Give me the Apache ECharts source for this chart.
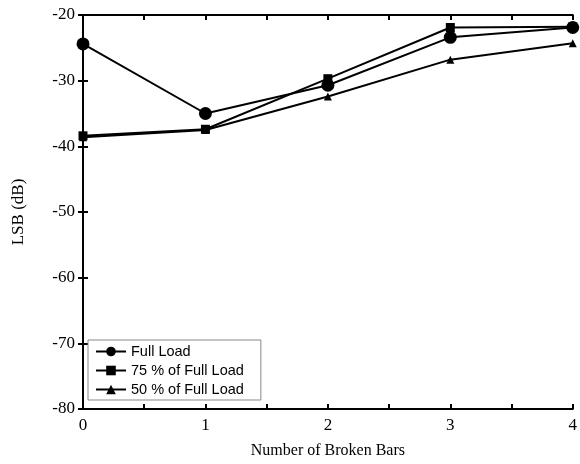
<!DOCTYPE html>
<html><head><meta charset="utf-8">
<script src="https://cdn.jsdelivr.net/npm/echarts@6/dist/echarts.min.js"></script>
<style>html,body{margin:0;padding:0;background:#fff}#c{width:580px;height:464px}</style>
</head><body><div id="c"></div>
<script>
const xValues = [0, 1, 2, 3, 4];
const fullLoad = [-24.4, -35.0, -30.7, -23.4, -21.9];
const load75 = [-38.4, -37.4, -29.7, -21.9, -21.8];
const load50 = [-38.6, -37.5, -32.4, -26.8, -24.3];
const seriesNames = ['Full Load', '75 % of Full Load', '50 % of Full Load'];
const xTicks = ['0', '1', '2', '3', '4'];
const yTicks = ['-80', '-70', '-60', '-50', '-40', '-30', '-20'];

const pair = arr => xValues.map((x, i) => [x, arr[i]]);
const serif = 'Liberation Serif';
const axisLineStyle = { color: '#000', width: 2 };
const chart = echarts.init(document.getElementById('c'));
chart.setOption({
  animation: false,
  grid: { left: 83, top: 15, right: 3, bottom: 55 },
  legend: {
    left: 88, top: 340, orient: 'vertical',
    padding: [4, 17, 3, 7],
    itemGap: 4, itemWidth: 30, itemHeight: 12,
    borderColor: '#888', borderWidth: 1,
    textStyle: { fontFamily: 'Liberation Sans', fontSize: 14.5, color: '#000' },
    data: seriesNames
  },
  xAxis: [{
    type: 'value', min: 0, max: 4, interval: 0.5,
    name: 'Number of Broken Bars', nameLocation: 'middle', nameGap: 34,
    nameTextStyle: { fontFamily: serif, fontSize: 16, color: '#000' },
    axisLine: { lineStyle: axisLineStyle },
    axisTick: { inside: true, length: 5, lineStyle: { color: '#000', width: 2 } },
    axisLabel: { fontFamily: serif, fontSize: 17, color: '#000', margin: 8,
      formatter: v => Number.isInteger(v) ? xTicks[v] : '' },
    splitLine: { show: false }
  }, {
    type: 'value', position: 'top', min: 0, max: 4, interval: 0.5,
    axisLine: { show: true, lineStyle: axisLineStyle },
    axisTick: { inside: true, length: 5, lineStyle: { color: '#000', width: 2 } },
    axisLabel: { show: false }, splitLine: { show: false }
  }],
  yAxis: [{
    type: 'value', min: -80, max: -20, interval: 10,
    name: 'LSB (dB)', nameLocation: 'middle', nameGap: 56, nameRotate: 90,
    nameTextStyle: { fontFamily: serif, fontSize: 17, color: '#000' },
    axisLine: { show: true, lineStyle: axisLineStyle },
    axisTick: { inside: true, length: 5, lineStyle: { color: '#000', width: 2 } },
    axisLabel: { fontFamily: serif, fontSize: 17, color: '#000', margin: 8,
      formatter: v => yTicks[Math.round((v + 80) / 10)] },
    splitLine: { show: false }
  }, {
    type: 'value', position: 'right', min: -80, max: -20, interval: 10,
    axisLine: { show: true, lineStyle: axisLineStyle },
    axisTick: { inside: true, length: 5, lineStyle: { color: '#000', width: 2 } },
    axisLabel: { show: false }, splitLine: { show: false }
  }],
  series: [
    { name: seriesNames[0], type: 'line', data: pair(fullLoad), symbol: 'circle', symbolSize: 13,
      lineStyle: { color: '#000', width: 2 }, itemStyle: { color: '#000' } },
    { name: seriesNames[1], type: 'line', data: pair(load75), symbol: 'rect', symbolSize: 9,
      lineStyle: { color: '#000', width: 2 }, itemStyle: { color: '#000' } },
    { name: seriesNames[2], type: 'line', data: pair(load50), symbol: 'triangle', symbolSize: 8,
      lineStyle: { color: '#000', width: 2 }, itemStyle: { color: '#000' } }
  ]
});
</script></body></html>
